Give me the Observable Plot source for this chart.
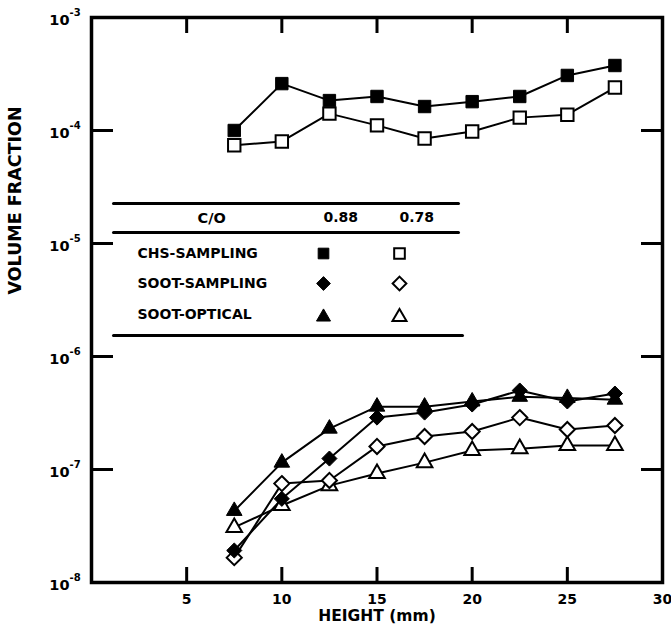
<!DOCTYPE html>
<html><head><meta charset="utf-8">
<script src="https://cdn.jsdelivr.net/npm/d3@7"></script>
<script src="https://cdn.jsdelivr.net/npm/@observablehq/plot@0.6"></script>
<style>
body{margin:0;background:#fff;}
#chart svg{display:block;}
</style>
</head><body><div id="chart"></div>
<script>
// ---- data ----
const heights = [7.5, 10, 12.5, 15, 17.5, 20, 22.5, 25, 27.5];
const chs088 = [1.0e-4, 2.6e-4, 1.84e-4, 2.0e-4, 1.63e-4, 1.8e-4, 2.0e-4, 3.07e-4, 3.76e-4];
const chs078 = [7.4e-5, 8.0e-5, 1.41e-4, 1.11e-4, 8.5e-5, 9.8e-5, 1.30e-4, 1.38e-4, 2.4e-4];
const sootSampling088 = [1.92e-8, 5.5e-8, 1.25e-7, 2.88e-7, 3.19e-7, 3.76e-7, 5.0e-7, 4.0e-7, 4.7e-7];
const sootSampling078 = [1.66e-8, 7.5e-8, 8.0e-8, 1.6e-7, 1.96e-7, 2.17e-7, 2.88e-7, 2.26e-7, 2.45e-7];
const sootOptical088 = [4.3e-8, 1.15e-7, 2.3e-7, 3.6e-7, 3.6e-7, 4.0e-7, 4.4e-7, 4.3e-7, 4.15e-7];
const sootOptical078 = [3.07e-8, 4.8e-8, 7.2e-8, 9.2e-8, 1.15e-7, 1.47e-7, 1.53e-7, 1.63e-7, 1.63e-7];
const xTickValues = [5, 10, 15, 20, 25, 30];
const xInnerTicks = [5, 10, 15, 20, 25];
const yTickValues = [1e-8, 1e-7, 1e-6, 1e-5, 1e-4, 1e-3];
const yTickExponents = ["-8", "-7", "-6", "-5", "-4", "-3"];
const yInnerTicks = [1e-7, 1e-6, 1e-5, 1e-4];
const legendRows = ["CHS-SAMPLING", "SOOT-SAMPLING", "SOOT-OPTICAL"];
const legendRatios = ["0.88", "0.78"];
const legendHeader = "C/O";
const xLabel = "HEIGHT (mm)";
const yLabel = "VOLUME FRACTION";

// ---- layout / style ----
const W = 671, H = 632;
const mL = 91, mT = 17, mR = 9, mB = 50;
const pw = W - mL - mR, ph = H - mT - mB;
const FONT = "'DejaVu Sans', 'Liberation Sans', Arial, sans-serif";

const symbolR = {square: 7, diamond2: 6.8, triangle: 5.8};
const series = [
  {values: chs078, symbol: "square", filled: false},
  {values: chs088, symbol: "square", filled: true},
  {values: sootOptical078, symbol: "triangle", filled: false},
  {values: sootSampling078, symbol: "diamond2", filled: false},
  {values: sootOptical088, symbol: "triangle", filled: true},
  {values: sootSampling088, symbol: "diamond2", filled: true}
];
const rows = s => heights.map((h, i) => ({x: h, y: s.values[i]}));

const lineShape = {draw(context, l) { context.moveTo(0, 0); context.lineTo(0, -l); }};
const txt = {fontWeight: "bold", fill: "black", lineAnchor: "middle"};

const marks = [];
// lines
for (const s of series) {
  marks.push(Plot.line(rows(s), {x: "x", y: "y", stroke: "black", strokeWidth: 2}));
}
// markers
for (const s of series) {
  marks.push(Plot.dot(rows(s), {
    x: "x", y: "y", symbol: s.symbol, r: symbolR[s.symbol],
    fill: s.filled ? "black" : "white", stroke: "black", strokeWidth: s.filled ? 1 : 2
  }));
}
// frame
marks.push(Plot.frame({stroke: "black", strokeWidth: 3.5}));
// inward ticks
marks.push(Plot.tickX(xInnerTicks, {x: d => d, stroke: "black", strokeWidth: 3, insetTop: ph - 15}));
marks.push(Plot.tickX(xInnerTicks, {x: d => d, stroke: "black", strokeWidth: 3, insetBottom: ph - 16}));
marks.push(Plot.tickY(yInnerTicks, {y: d => d, stroke: "black", strokeWidth: 3, insetRight: pw - 22}));
marks.push(Plot.tickY(yInnerTicks, {y: d => d, stroke: "black", strokeWidth: 3, insetLeft: pw - 21}));
// tick labels
marks.push(Plot.text(xTickValues, {x: d => d, text: d => String(d), frameAnchor: "bottom", dy: 17.5,
  fontSize: 14, ...txt}));
marks.push(Plot.text(yTickValues, {y: d => d, text: () => "10", frameAnchor: "left", dx: -22, dy: 3,
  textAnchor: "end", fontSize: 14.5, ...txt}));
marks.push(Plot.text(yTickValues, {y: d => d, text: (d, i) => yTickExponents[i], frameAnchor: "left", dx: -22, dy: -5,
  textAnchor: "start", fontSize: 10, ...txt}));
// axis titles
marks.push(Plot.text([xLabel], {text: d => d, frameAnchor: "bottom", dy: 33.5, fontSize: 15.5, ...txt}));
marks.push(Plot.text([yLabel], {text: d => d, frameAnchor: "left", dx: -76, dy: -5.5, rotate: -90, fontSize: 17.5, ...txt}));

// legend (positioned relative to the frame's top-left corner)
const legLine = (dx, dy, len) => Plot.vector([0], {frameAnchor: "top-left", dx, dy, length: len, rotate: 90,
  anchor: "start", shape: lineShape, stroke: "black", strokeWidth: 3});
marks.push(legLine(22, 186, 345));
marks.push(legLine(22, 215, 345));
marks.push(legLine(22, 318, 349));
marks.push(Plot.text([legendHeader], {text: d => d, frameAnchor: "top-left", dx: 106, dy: 201, fontSize: 14.5, ...txt}));
const colDx = [232, 308];
legendRatios.forEach((r, j) => marks.push(Plot.text([r], {text: d => d, frameAnchor: "top-left", dx: colDx[j], dy: 200, fontSize: 14, ...txt})));
const rowDy = [236, 266, 297.5];
const rowSymbols = ["square", "diamond2", "triangle"];
const legendSymR = {square: 6, diamond2: 6.2, triangle: 5.2};
const symDy = {square: 0, diamond2: 0, triangle: 2};
legendRows.forEach((name, i) => {
  marks.push(Plot.text([name], {text: d => d, frameAnchor: "top-left", dx: 46, dy: rowDy[i], textAnchor: "start",
    fontSize: 14, ...txt}));
  [true, false].forEach((filled, j) => {
    const sym = rowSymbols[i];
    marks.push(Plot.dot([0], {frameAnchor: "top-left", dx: colDx[j], dy: rowDy[i] + symDy[sym], symbol: sym,
      r: legendSymR[sym], fill: filled ? "black" : "white", stroke: "black", strokeWidth: filled ? 1 : 2}));
  });
});

const chart = Plot.plot({
  width: W, height: H,
  marginLeft: mL, marginTop: mT, marginRight: mR, marginBottom: mB,
  style: {fontFamily: FONT, background: "white", color: "black", overflow: "visible"},
  x: {domain: [0, 30], axis: null},
  y: {type: "log", domain: [1e-8, 1e-3], axis: null},
  marks
});
document.getElementById("chart").appendChild(chart);
</script>
</body></html>
